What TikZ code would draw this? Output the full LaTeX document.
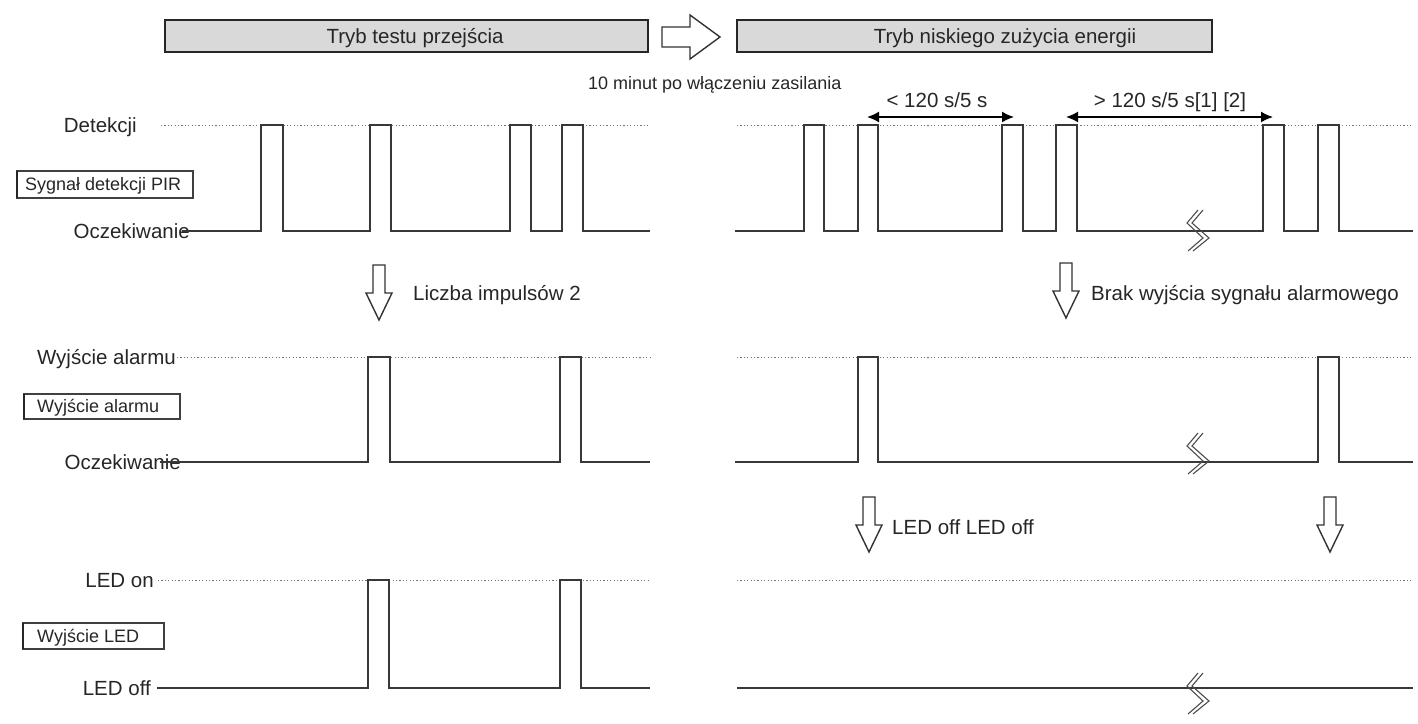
\documentclass[tikz,border=0pt]{standalone}
\usepackage{fontspec}
\setmainfont{Liberation Sans}
\usetikzlibrary{arrows.meta}
\begin{document}
\begin{tikzpicture}[x=1pt,y=-1pt,
  sig/.style={draw=black!78, line width=1.3pt, line join=miter},
  lvl/.style={draw=black!55, line width=1pt, dash pattern=on 1.2pt off 2.2pt},
  hdr/.style={draw=black!85, line width=1.8pt, fill=black!15},
  lbox/.style={draw=black!75, line width=1.2pt},
  ledge/.style={draw=black!85, line width=2.2pt},
  big/.style={font=\fontsize{20.5}{24}\selectfont, text=black!85, inner sep=0pt},
  small/.style={font=\fontsize{18}{21}\selectfont, text=black!85, inner sep=0pt},
  blk/.style={draw=black!80, line width=1.4pt, fill=white, line join=miter},
  dim/.style={draw=black, line width=1.6pt, {Latex[length=12pt,width=11pt]}-{Latex[length=12pt,width=11pt]}},
  brk/.style={draw=black!70, line width=1.1pt},
  downarr/.pic={\path[blk] (-6,0) -- (6,0) -- (6,28) -- (13,28) -- (0,55) -- (-13,28) -- (-6,28) -- cycle;}
]
\useasboundingbox (0,0) rectangle (1418,723);

% headers
\path[hdr] (165,20) rectangle (648,52);
\node[big, anchor=base] (h1) at (415,43.3) {Tryb testu przejścia};
\path[blk] (662,27) -- (690,27) -- (690,15) -- (720,37) -- (690,59) -- (690,47) -- (662,47) -- cycle;
\path[hdr] (737,20) rectangle (1212,52);
\node[big, anchor=base] (h2) at (1005,43.3) {Tryb niskiego zużycia energii};
\node[small, anchor=base west] (t10) at (588,89) {10 minut po włączeniu zasilania};

% ---------- row 1 : PIR
\node[big, anchor=base east] (det) at (137,132.3) {Detekcji};
\node[big, anchor=base east] (oc1) at (190,238.3) {Oczekiwanie};
\path[lbox] (17,171) rectangle (193,198);
\draw[ledge] (17,171) -- (17,198);
\node[small, anchor=base west] (pir) at (25,190.9) {Sygnał detekcji PIR};
\draw[lvl] (161,125) -- (650,125);
\draw[lvl] (737,125) -- (1413,125);
\draw[sig] (182,231) -- (261,231) -- (261,125) -- (283,125) -- (283,231)
  -- (370,231) -- (370,125) -- (391,125) -- (391,231)
  -- (510,231) -- (510,125) -- (531,125) -- (531,231)
  -- (562,231) -- (562,125) -- (583,125) -- (583,231) -- (650,231);
\draw[sig] (735,231) -- (804,231) -- (804,125) -- (824,125) -- (824,231)
  -- (858,231) -- (858,125) -- (878,125) -- (878,231)
  -- (1002,231) -- (1002,125) -- (1023,125) -- (1023,231)
  -- (1056,231) -- (1056,125) -- (1077,125) -- (1077,231)
  -- (1263,231) -- (1263,125) -- (1284,125) -- (1284,231)
  -- (1318,231) -- (1318,125) -- (1339,125) -- (1339,231) -- (1413,231);
\begin{scope}[shift={(1198,210)}]
  \draw[brk] (0,0) -- (-11,13) -- (5,28) -- (-10,41);
  \draw[brk] (5,0) -- (-6,13) -- (11,28) -- (-5,41);
\end{scope}
\coordinate (a1l) at (867,117); \coordinate (a1r) at (1014,117);
\coordinate (a2l) at (1066,117); \coordinate (a2r) at (1273,117);
\draw[dim] (a1l) -- (a1r);
\draw[dim] (a2l) -- (a2r);
\node[big, anchor=base] (d1) at (937,107) {< 120 s/5 s};
\node[big, anchor=base] (d2) at (1170,107) {> 120 s/5 s[1] [2]};

% transitions 1->2
\pic at (379,265) {downarr};
\node[big, anchor=base west] (li) at (413,300) {Liczba impulsów 2};
\pic at (1066,263) {downarr};
\node[big, anchor=base west] (br) at (1091,300) {Brak wyjścia sygnału alarmowego};

% ---------- row 2 : alarm
\node[big, anchor=base east] (wa) at (176,364.3) {Wyjście alarmu};
\node[big, anchor=base east] (oc2) at (181,469.3) {Oczekiwanie};
\path[lbox] (24,394) rectangle (180,419);
\draw[ledge] (24,394) -- (24,419);
\node[small, anchor=base west] (wab) at (37,412.9) {Wyjście alarmu};
\draw[lvl] (177,357) -- (650,357);
\draw[lvl] (737,357) -- (1413,357);
\draw[sig] (160,462) -- (368,462) -- (368,357) -- (390,357) -- (390,462)
  -- (560,462) -- (560,357) -- (581,357) -- (581,462) -- (650,462);
\draw[sig] (735,462) -- (858,462) -- (858,357) -- (878,357) -- (878,462)
  -- (1318,462) -- (1318,357) -- (1339,357) -- (1339,462) -- (1413,462);
\begin{scope}[shift={(1198,433)}]
  \draw[brk] (0,0) -- (-11,13) -- (5,28) -- (-10,41);
  \draw[brk] (5,0) -- (-6,13) -- (11,28) -- (-5,41);
\end{scope}

% transitions 2->3
\pic at (869,497) {downarr};
\node[big, anchor=base west] (lo) at (892,534) {LED off LED off};
\pic at (1330,497) {downarr};

% ---------- row 3 : LED
\node[big, anchor=base east] (lon) at (154,587.3) {LED on};
\node[big, anchor=base east] (loff) at (151,695.3) {LED off};
\path[lbox] (23,623) rectangle (164,649);
\draw[ledge] (23,623) -- (23,649);
\node[small, anchor=base west] (wl) at (37,642.4) {Wyjście LED};
\draw[lvl] (158,580) -- (650,580);
\draw[lvl] (737,580) -- (1413,580);
\draw[sig] (157,688) -- (368,688) -- (368,580) -- (389,580) -- (389,688)
  -- (560,688) -- (560,580) -- (581,580) -- (581,688) -- (650,688);
\draw[sig] (737,688) -- (1413,688);
\begin{scope}[shift={(1198,673)}]
  \draw[brk] (0,0) -- (-11,13) -- (5,28) -- (-10,41);
  \draw[brk] (5,0) -- (-6,13) -- (11,28) -- (-5,41);
\end{scope}
\end{tikzpicture}
\end{document}
